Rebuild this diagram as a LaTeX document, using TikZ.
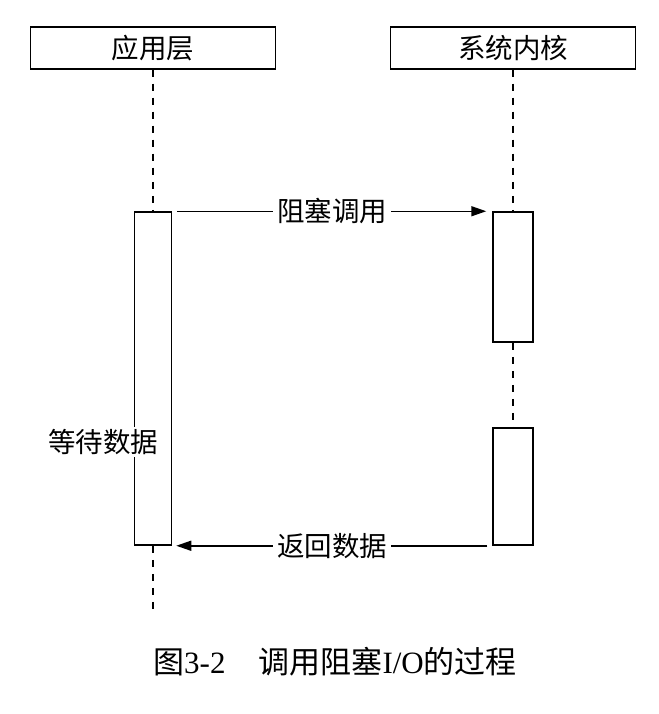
\documentclass[tikz,border=0pt]{standalone}
\usepackage{fontspec}
\setmainfont{Liberation Serif}
\newfontfamily\cjk{Noto Sans CJK SC}
\usetikzlibrary{arrows.meta}
\begin{document}
\begin{tikzpicture}[x=1pt,y=-1pt,
  every node/.style={inner sep=0pt},
  lbl/.style={font=\cjk\fontsize{27.5}{30}\selectfont},
  headbox/.style={draw, line width=1.5pt, minimum width=245pt, minimum height=42pt, lbl},
  actbox/.style={draw, line width=1.5pt, fill=white},
  life/.style={line width=1.5pt, dash pattern=on 7pt off 7pt},
  msg/.style={line width=1.5pt, -{Triangle[length=15pt,width=10pt]}},
  tag/.style={lbl, fill=white, inner xsep=4pt, inner ysep=2pt}]
\useasboundingbox (0,0) rectangle (658,714);
\node[headbox] (app) at (153,48) {应用层};
\node[headbox] (ker) at (513,48) {系统内核};
\node[actbox, minimum width=37pt, minimum height=333pt] (act1) at (153,378.5) {};
\node[actbox, minimum width=40pt, minimum height=130pt] (act2) at (513,277) {};
\node[actbox, minimum width=40pt, minimum height=117pt] (act3) at (513,486.5) {};
\coordinate (end1) at (153,615);
\draw[life] (app.south) -- (act1.north);
\draw[life] (act1.south) -- (end1);
\draw[life] (ker.south) -- (act2.north);
\draw[life] (act2.south) -- (act3.north);
\draw[msg, shorten <=5pt, shorten >=6pt] (act1.north east) -- node[tag] (call) {阻塞调用} (act2.north west);
\draw[msg, shorten <=5pt, shorten >=4pt] (act3.south west) -- node[tag] (ret) {返回数据} (act1.south east);
\node[tag] (wait) at (103,442) {等待数据};
\node[font=\fontsize{31}{34}\selectfont] (cap) at (335,662) {{\cjk 图}3-2\hspace{33pt}{\cjk 调用阻塞}I/O{\cjk 的过程}};
\end{tikzpicture}
\end{document}
